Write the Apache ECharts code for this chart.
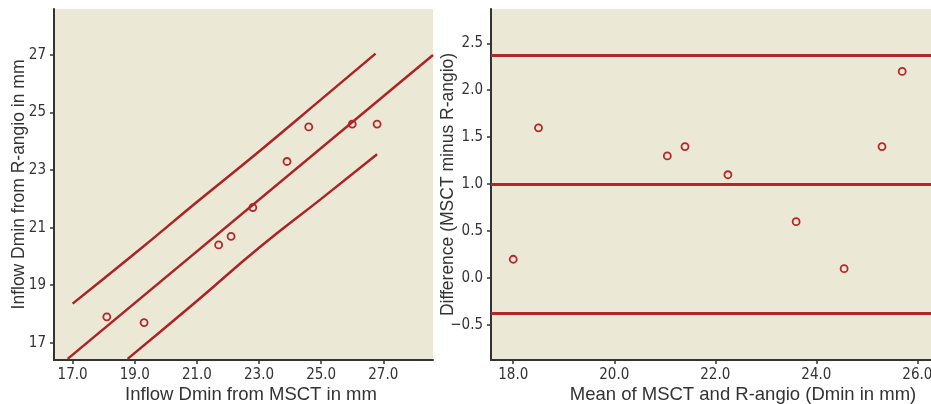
<!DOCTYPE html>
<html>
<head>
<meta charset="utf-8">
<script src="https://cdn.jsdelivr.net/npm/echarts@6/dist/echarts.min.js"></script>
<style>
  html, body { margin: 0; padding: 0; background: #fff; }
  #chart { width: 931px; height: 404px; }
</style>
</head>
<body>
<div id="chart"></div>
<script>
// left panel: MSCT vs R-angio (Dmin, mm)
const msct = [18.1, 19.3, 21.7, 22.1, 22.8, 23.9, 24.6, 26.0, 26.8];
const rangio = [17.9, 17.7, 20.4, 20.7, 21.7, 23.3, 24.5, 24.6, 24.6];
const fitLine = [[16.84, 16.44], [28.6, 27.0]];
const upperBand = [[17.0, 18.36], [19.0, 20.1], [21.0, 21.89], [23.0, 23.65], [25.0, 25.46], [26.75, 27.05]];
const lowerBand = [[18.77, 16.44], [21.0, 18.45], [23.0, 20.3], [25.0, 22.0], [26.8, 23.55]];
const leftXTicks = [17, 19, 21, 23, 25, 27];
const leftYTicks = [17, 19, 21, 23, 25, 27];

// right panel: Bland-Altman
const baMean = [18.0, 18.5, 21.05, 21.4, 22.25, 23.6, 24.55, 25.3, 25.7];
const baDiff = [0.2, 1.6, 1.3, 1.4, 1.1, 0.6, 0.1, 1.4, 2.2];
const baLimits = [2.37, 1.0, -0.37];
const rightXTicks = [18, 20, 22, 24, 26];
const rightYTicks = [-0.5, 0, 0.5, 1.0, 1.5, 2.0, 2.5];

const red = "#AC2326";
const bg = "#ECE8D6";
const axisCol = "#333";
const tickFont = "'DejaVu Sans Condensed', 'Liberation Sans Narrow', sans-serif";
const titleFont = "'Liberation Sans', Arial, sans-serif";

const myChart = echarts.init(document.getElementById("chart"));

const axisBase = (ticks, fmt) => ({
  type: "value",
  axisLine: { show: true, onZero: false, lineStyle: { color: axisCol, width: 2 } },
  axisTick: { show: true, customValues: ticks, length: 4, lineStyle: { color: axisCol, width: 1.5 } },
  axisLabel: {
    customValues: ticks,
    formatter: fmt,
    color: "#333",
    fontFamily: tickFont,
    fontSize: 15,
  },
  splitLine: { show: false },
  nameLocation: "middle",
  nameMoveOverlap: false,
  nameTextStyle: { color: "#333", fontFamily: titleFont, fontSize: 17.5 },
});

const minus = (v) => (v < 0 ? "\u2212" + Math.abs(v).toFixed(1) : v.toFixed(1));

const gridBase = {
  top: 9, height: 351, show: true, backgroundColor: bg, borderWidth: 0,
  containLabel: false, outerBoundsMode: "none",
};

myChart.setOption({
  animation: false,
  grid: [
    Object.assign({ left: 54, width: 379 }, gridBase),
    Object.assign({ left: 491, width: 440 }, gridBase),
  ],
  xAxis: [
    Object.assign(axisBase(leftXTicks, (v) => v.toFixed(1)), {
      gridIndex: 0, min: 16.4, max: 28.6,
      name: "Inflow Dmin from MSCT in mm", nameGap: 25,
    }),
    Object.assign(axisBase(rightXTicks, (v) => v.toFixed(1)), {
      gridIndex: 1, min: 17.56, max: 26.27,
      name: "Mean of MSCT and R-angio (Dmin in mm)", nameGap: 25,
    }),
  ],
  yAxis: [
    Object.assign(axisBase(leftYTicks, (v) => String(v)), {
      gridIndex: 0, min: 16.4, max: 28.6,
      name: "Inflow Dmin from R-angio in mm", nameGap: 26,
    }),
    Object.assign(axisBase(rightYTicks, minus), {
      gridIndex: 1, min: -0.873, max: 2.865,
      name: "Difference (MSCT minus R-angio)", nameGap: 34,
    }),
  ],
  series: [
    {
      type: "line", xAxisIndex: 0, yAxisIndex: 0, data: fitLine,
      symbol: "none", lineStyle: { color: red, width: 2.5 },
    },
    {
      type: "line", xAxisIndex: 0, yAxisIndex: 0, data: upperBand, smooth: true,
      symbol: "none", lineStyle: { color: red, width: 2.5 },
    },
    {
      type: "line", xAxisIndex: 0, yAxisIndex: 0, data: lowerBand, smooth: true,
      symbol: "none", lineStyle: { color: red, width: 2.5 },
    },
    {
      type: "scatter", xAxisIndex: 0, yAxisIndex: 0,
      data: msct.map((x, i) => [x, rangio[i]]),
      symbol: "circle", symbolSize: 7,
      itemStyle: { color: "transparent", borderColor: "#B3262A", borderWidth: 1.8, opacity: 1 },
    },
    {
      type: "scatter", xAxisIndex: 1, yAxisIndex: 1,
      data: baMean.map((x, i) => [x, baDiff[i]]),
      symbol: "circle", symbolSize: 7,
      itemStyle: { color: "transparent", borderColor: "#B3262A", borderWidth: 1.8, opacity: 1 },
      markLine: {
        silent: true, symbol: "none", label: { show: false },
        lineStyle: { color: "#B0282A", width: 3, type: "solid" },
        data: baLimits.map((v) => ({ yAxis: v })),
      },
    },
  ],
});

// x titles are a bit larger and sit right of centre, as in the original figure
myChart.setOption({
  xAxis: [
    { nameTextStyle: { fontSize: 18.5, padding: [0, 0, 0, 15] } },
    { nameTextStyle: { fontSize: 18.5, padding: [0, 0, 0, 64] } },
  ],
});
</script>
</body>
</html>
